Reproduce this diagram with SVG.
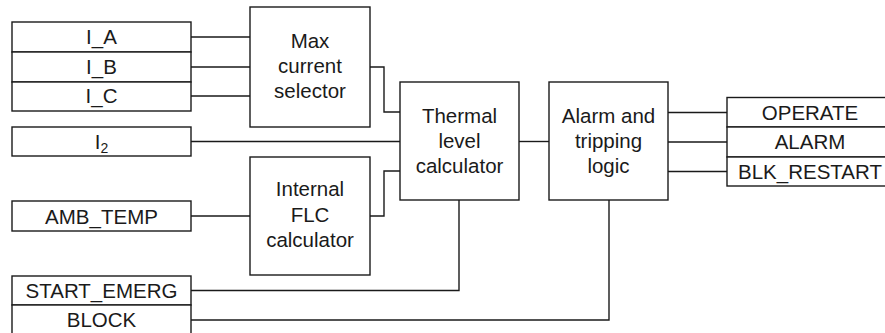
<svg xmlns="http://www.w3.org/2000/svg" width="885" height="333" viewBox="0 0 885 333">
<style>
rect{fill:#fff;stroke:#1a1a1a;stroke-width:1.4}
text{font-family:"Liberation Sans",Arial,sans-serif;font-size:20.5px;fill:#1a1a1a;text-anchor:middle}
.c path{fill:none;stroke:#1a1a1a;stroke-width:1.4}
</style>
<rect x="0" y="0" width="885" height="333" style="stroke:none"/>
<g class="c" id="connectors">
<path d="M191 37H250M191 67H250M191 96H250"/>
<path d="M370 67H384V112H400"/>
<path d="M191 141.5H400"/>
<path d="M191 216H250"/>
<path d="M370 216H384V171H400"/>
<path d="M191 290.5H459V200"/>
<path d="M191 320H609V200"/>
<path d="M519 141.5H549"/>
<path d="M668 112.5H727M668 142H727M668 171.5H727"/>
</g>
<g id="in_IA"><rect x="12" y="22" width="179" height="30"/><text x="101.5" y="44">I_A</text></g>
<g id="in_IB"><rect x="12" y="52" width="179" height="30"/><text x="101.5" y="74">I_B</text></g>
<g id="in_IC"><rect x="12" y="82" width="179" height="29"/><text x="101.5" y="103">I_C</text></g>
<g id="in_I2"><rect x="12" y="127" width="179" height="29"/><text x="101.5" y="149">I<tspan font-size="14" dy="4">2</tspan></text></g>
<g id="in_AMB"><rect x="12" y="201" width="179" height="30"/><text x="101.5" y="223.5">AMB_TEMP</text></g>
<g id="in_START"><rect x="12" y="276" width="179" height="29"/><text x="101.5" y="298">START_EMERG</text></g>
<g id="in_BLOCK"><rect x="12" y="305" width="179" height="32"/><text x="101.5" y="327">BLOCK</text></g>
<g id="maxsel"><rect x="250" y="7" width="120" height="120"/><text x="310" y="48">Max</text><text x="310" y="73">current</text><text x="310" y="98">selector</text></g>
<g id="flc"><rect x="250" y="157" width="120" height="118"/><text x="310" y="196">Internal</text><text x="310" y="221.5">FLC</text><text x="310" y="247">calculator</text></g>
<g id="thermal"><rect x="400" y="82" width="119" height="118"/><text x="459.5" y="123">Thermal</text><text x="459.5" y="148">level</text><text x="459.5" y="173">calculator</text></g>
<g id="alarm"><rect x="549" y="82" width="119" height="118"/><text x="608.5" y="123">Alarm and</text><text x="608.5" y="148">tripping</text><text x="608.5" y="173">logic</text></g>
<g id="out_OPERATE"><rect x="727" y="97.5" width="170" height="29.5"/><text x="810" y="120">OPERATE</text></g>
<g id="out_ALARM"><rect x="727" y="127" width="170" height="30"/><text x="810" y="149">ALARM</text></g>
<g id="out_BLK"><rect x="727" y="157" width="170" height="29"/><text x="810" y="179">BLK_RESTART</text></g>
</svg>
